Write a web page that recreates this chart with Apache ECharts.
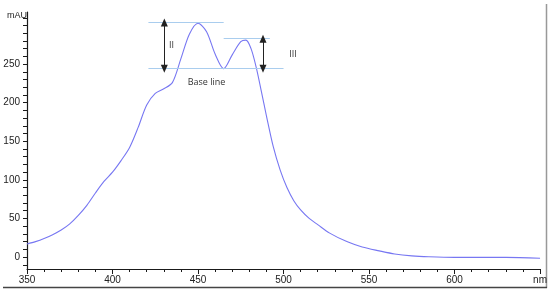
<!DOCTYPE html>
<html>
<head>
<meta charset="utf-8">
<script src="https://cdn.jsdelivr.net/npm/echarts@6/dist/echarts.min.js"></script>
<style>
  html, body { margin: 0; padding: 0; background: #fff; }
  #chart { width: 550px; height: 291px; }
</style>
</head>
<body>
<div id="chart"></div>
<script>
// spectrum (nm, mAU)
var wavelengths = [350, 355, 360, 365, 370, 375, 380, 385, 390, 395, 400, 405, 410, 415, 420, 425, 430, 435, 440, 445, 450, 455, 460, 465, 470, 475, 478, 481, 484, 487, 490, 494, 498, 502, 506, 510, 515, 520, 527, 537, 546, 556, 565, 575, 585, 600, 615, 630, 650];
var absorbance  = [17, 20, 24, 29, 35, 43, 54, 67, 83, 98, 110, 125, 142, 168, 197, 212, 218, 226, 257, 289, 303, 292, 263, 244, 262, 279, 281, 270, 246, 215, 183, 143, 113, 90, 73, 61, 50, 42, 31, 20, 13, 8, 4, 1.5, 0.3, -0.5, -0.5, -0.5, -1.5];

var yLabels = [0, 50, 100, 150, 200, 250];
var yTicks = [-10, 0, 10, 20, 30, 40, 50, 60, 70, 80, 90, 100, 110, 120, 130, 140, 150, 160, 170, 180, 190, 200, 210, 220, 230, 240, 250, 260, 270, 280, 290, 300, 310];

// annotation levels
var peakII = 304, peakIII = 283, baseLevel = 244;
var lineIIx = [421, 465], lineIIIx = [465, 492], baseX = [421, 500];
var arrowIIx = 430.3, arrowIIIx = 488;

var lightBlue = "#a9cdee";
var arrowColor = "#222";
var axisColor = "#1a1a1a";

var data = wavelengths.map(function (w, i) { return [w, absorbance[i]]; });

function hLine (x0, x1, y) {
  return [
    { coord: [x0, y], symbol: "none", lineStyle: { color: lightBlue, width: 1.2, type: "solid" } },
    { coord: [x1, y], symbol: "none" }
  ];
}
function arrow (x, y0, y1) {
  return [
    { coord: [x, y0], symbol: "triangle", symbolSize: [7, 8], lineStyle: { color: arrowColor, width: 1, type: "solid" }, itemStyle: { color: "#000" } },
    { coord: [x, y1], symbol: "triangle", symbolSize: [7, 8], itemStyle: { color: "#000" } }
  ];
}
function note (x, y, text, size) {
  return {
    coord: [x, y], symbol: "circle", symbolSize: 0,
    label: { show: true, position: "inside", formatter: text, color: "#333", fontSize: size, fontFamily: "Open Sans" }
  };
}

var myChart = echarts.init(document.getElementById("chart"), null, { renderer: "canvas" });
myChart.setOption({
  animation: false,
  grid: { left: 27, right: 3.5, top: 12, bottom: 22 },
  xAxis: {
    type: "value",
    min: 350, max: 650, interval: 50,
    axisLine: { show: true, onZero: false, lineStyle: { color: axisColor, width: 1.2 } },
    axisTick: { show: true, length: 5, lineStyle: { color: axisColor, width: 1 } },
    minorTick: { show: true, splitNumber: 5, length: 3, lineStyle: { color: axisColor, width: 1 } },
    splitLine: { show: false },
    axisLabel: {
      margin: 6, fontSize: 10, color: "#222", fontFamily: "Liberation Sans",
      formatter: function (v) { return v === 650 ? "nm" : v; }
    }
  },
  yAxis: {
    type: "value",
    min: -15.5, max: 317.5,
    axisLine: { show: true, lineStyle: { color: axisColor, width: 1.2 } },
    axisTick: { show: true, length: 4, customValues: yTicks, lineStyle: { color: axisColor, width: 1 } },
    splitLine: { show: false },
    axisLabel: { customValues: yLabels, margin: 7, fontSize: 10, color: "#222", fontFamily: "Liberation Sans" }
  },
  graphic: [
    { type: "text", left: 7, top: 11, style: { text: "mAU", fontSize: 9, fill: "#222", fontFamily: "Liberation Sans" } },
    { type: "line", shape: { x1: 546.5, y1: 4, x2: 546.5, y2: 288 }, style: { stroke: "#999", lineWidth: 1.5 } },
    { type: "line", shape: { x1: 3, y1: 287.5, x2: 547, y2: 287.5 }, style: { stroke: "#444", lineWidth: 1.5 } }
  ],
  series: [{
    type: "line",
    data: data,
    smooth: 0.3,
    showSymbol: false,
    lineStyle: { color: "#7777f2", width: 1.1 },
    markLine: {
      silent: true,
      label: { show: false },
      data: [
        hLine(lineIIx[0], lineIIx[1], peakII),
        hLine(baseX[0], baseX[1], baseLevel),
        hLine(lineIIIx[0], lineIIIx[1], peakIII),
        arrow(arrowIIx, peakII, baseLevel),
        arrow(arrowIIIx, peakIII, baseLevel)
      ]
    },
    markPoint: {
      silent: true,
      data: [
        note(434.5, 274, "II", 9),
        note(505.5, 262.5, "III", 9),
        note(455, 226.5, "Base line", 9)
      ]
    }
  }]
});
</script>
</body>
</html>
